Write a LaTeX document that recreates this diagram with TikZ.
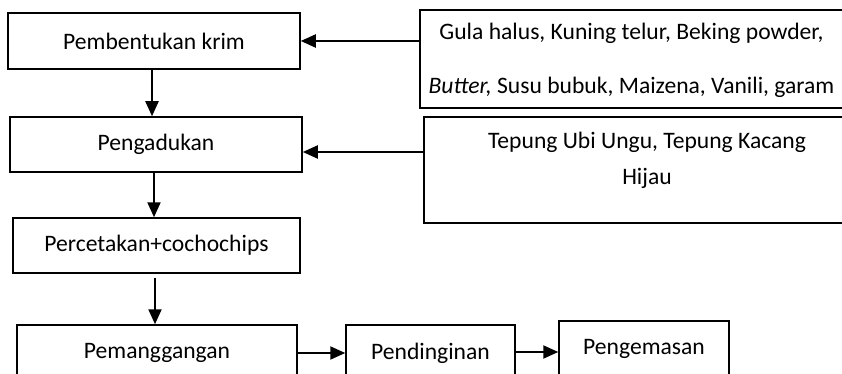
\documentclass[tikz,border=0pt]{standalone}
\usepackage{fontspec}
\setmainfont{Carlito}
\usepackage{tikz}
\usetikzlibrary{arrows.meta,positioning}
\tikzstyle{proses}=[rectangle,draw=black,line width=1.5pt,inner sep=0pt,
                  minimum height=56pt,align=center,font=\fontsize{23.6}{28}\selectfont]
\tikzstyle{bahan}=[rectangle,inner sep=0pt,minimum width=460pt]
\tikzstyle{teks}=[inner sep=0pt,align=center,font=\fontsize{23.6}{36}\selectfont]
\tikzstyle{arrow}=[-{Triangle[length=15pt,width=13pt]},line width=2pt,draw=black]

\begin{document}
\begin{tikzpicture}[x=1pt,y=-1pt]
      \useasboundingbox (0,0) rectangle (842,374);
      \clip (0,0) rectangle (842,374);
      \node[proses,minimum width=292pt] (krim) at (154,41) {Pembentukan krim};
      \node[proses,minimum width=292pt,minimum height=55pt] (aduk) at (156,144.5) {Pengadukan};
      \node[proses,minimum width=287pt,minimum height=55pt] (cetak) at (156.5,245.5) {Percetakan+cochochips};
      \node[proses,minimum width=280pt] (panggang) at (157,353) {Pemanggangan};
      \node[proses,minimum width=169pt] (dingin) at (430.5,353) {Pendinginan};
      \node[proses,minimum width=170pt] (kemas) at (644,349) {Pengemasan};
      % kotak bahan: terpotong di tepi kanan
      \node[bahan,minimum height=98pt] (bahan1) at (650,59) {};
      \node[teks,font=\fontsize{23.6}{54}\selectfont] (bahan1txt) at (631.5,60)
            {Gula halus, Kuning telur, Beking powder,\\\textit{Butter,} Susu bubuk, Maizena, Vanili, garam};
      \node[bahan,minimum height=106pt] (bahan2) at (654,170) {};
      \node[teks] (bahan2txt) at (647,160) {Tepung Ubi Ungu, Tepung Kacang\\Hijau};
      \draw[line width=1.5pt] (bahan1.north east) -- (bahan1.north west) -- (bahan1.south west) -- (bahan1.south east);
      \draw[line width=1.5pt] (bahan2.north east) -- (bahan2.north west) -- (bahan2.south west) -- (bahan2.south east);
      \draw[arrow] (bahan1.west |- krim.east) -- (krim.east);
      \draw[arrow] (bahan2.west |- 0,152) -- (aduk.east |- 0,152);
      \draw[arrow] (krim.south -| 152,0) -- (aduk.north -| 152,0);
      \draw[arrow] (aduk.south -| 154,0) -- (cetak.north -| 154,0);
      \draw[arrow,shorten <=4pt] (cetak.south -| 155,0) -- (panggang.north -| 155,0);
      \draw[arrow] (panggang.east |- 0,353) -- (dingin.west |- 0,353);
      \draw[arrow] (dingin.east |- 0,352) -- (kemas.west |- 0,352);
    \end{tikzpicture}
\end{document}
